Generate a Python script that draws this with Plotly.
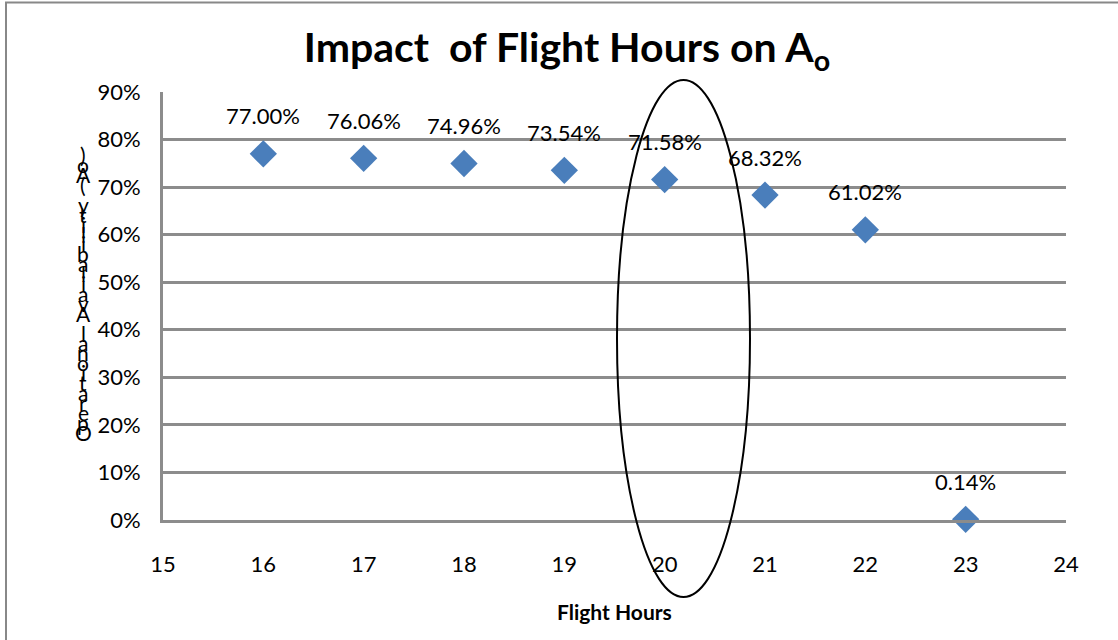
import plotly.graph_objects as go

# Data
flight_hours = [16, 17, 18, 19, 20, 21, 22, 23]
availability = [0.7700, 0.7606, 0.7496, 0.7354, 0.7158, 0.6832, 0.6102, 0.0014]
x_ticks = [15, 16, 17, 18, 19, 20, 21, 22, 23, 24]
y_ticks = [0, 0.1, 0.2, 0.3, 0.4, 0.5, 0.6, 0.7, 0.8, 0.9]
y_tick_labels = ["0%", "10%", "20%", "30%", "40%", "50%", "60%", "70%", "80%", "90%"]
title_text = "Impact  of Flight Hours on A<sub>o</sub>"
x_title = "Flight Hours"
y_title = "Operational Availability (Ao)"

FONT = "Lato"
GRID = "#8c8c8c"
BLUE = "#4a7ebb"

W, H = 1118, 640
L, R, T, B = 163, 52, 92, 120
pw, ph = W - L - R, H - T - B

def px_to_paper_x(px):
    return (px - L) / pw

def py_to_paper_y(py):
    return (H - B - py) / ph

fig = go.Figure()
fig.add_trace(go.Scatter(
    x=flight_hours, y=availability, mode="markers",
    marker=dict(symbol="diamond", size=21, color=BLUE),
    cliponaxis=False, hoverinfo="skip", showlegend=False,
))

annotations = []
for xv, yv in zip(flight_hours, availability):
    annotations.append(dict(
        x=xv, y=yv, xref="x", yref="y", text=f"{yv*100:.2f}%",
        showarrow=False, yanchor="middle", xanchor="center", yshift=38,
        font=dict(family=FONT, size=22, color="black"),
    ))

# Stacked (garbled) y-axis title characters, bottom to top
step = 9.9
base_py = 432
for i, ch in enumerate(y_title):
    if ch == " ":
        continue
    py = base_py - i * step
    annotations.append(dict(
        x=px_to_paper_x(83), y=py_to_paper_y(py), xref="paper", yref="paper",
        text=ch, showarrow=False, xanchor="center", yanchor="middle",
        font=dict(family=FONT, size=21, color="black"),
    ))

annotations.append(dict(
    x=0.5, y=py_to_paper_y(611), xref="paper", yref="paper", text=f"<b>{x_title}</b>",
    showarrow=False, xanchor="center", yanchor="middle",
    font=dict(family=FONT, size=21, color="black"),
))

shapes = [
    dict(type="rect", xref="paper", yref="paper",
         x0=px_to_paper_x(6), x1=px_to_paper_x(W + 20),
         y0=py_to_paper_y(H + 20), y1=py_to_paper_y(2.5),
         line=dict(color="#888888", width=2), fillcolor="rgba(0,0,0,0)", layer="below"),
    dict(type="circle", xref="paper", yref="paper",
         x0=px_to_paper_x(617), x1=px_to_paper_x(750),
         y0=py_to_paper_y(597), y1=py_to_paper_y(80),
         line=dict(color="black", width=2), fillcolor="rgba(0,0,0,0)", layer="above"),
]

fig.update_layout(
    width=W, height=H,
    margin=dict(l=L, r=R, t=T, b=B),
    paper_bgcolor="white", plot_bgcolor="white",
    title=dict(text=f"<b>{title_text}</b>", x=567 / W, xanchor="center",
               y=1 - 48 / H, yanchor="middle", yref="container",
               font=dict(family=FONT, size=41, color="black")),
    xaxis=dict(range=[15, 24], tickvals=x_ticks, ticktext=[str(v) for v in x_ticks],
               showgrid=False, zeroline=False, showline=True, linecolor=GRID, linewidth=3,
               ticks="", ticklabelstandoff=23,
               tickfont=dict(family=FONT, size=22, color="black")),
    yaxis=dict(range=[0, 0.9], tickvals=y_ticks, ticktext=y_tick_labels,
               showgrid=True, gridcolor=GRID, gridwidth=3, zeroline=False,
               showline=True, linecolor=GRID, linewidth=3, ticks="", ticklabelstandoff=15,
               tickfont=dict(family=FONT, size=22, color="black")),
    annotations=annotations,
    shapes=shapes,
    showlegend=False,
)

fig.write_html("out.html", config={"displayModeBar": False},
               post_script="document.body.style.margin='0';")
